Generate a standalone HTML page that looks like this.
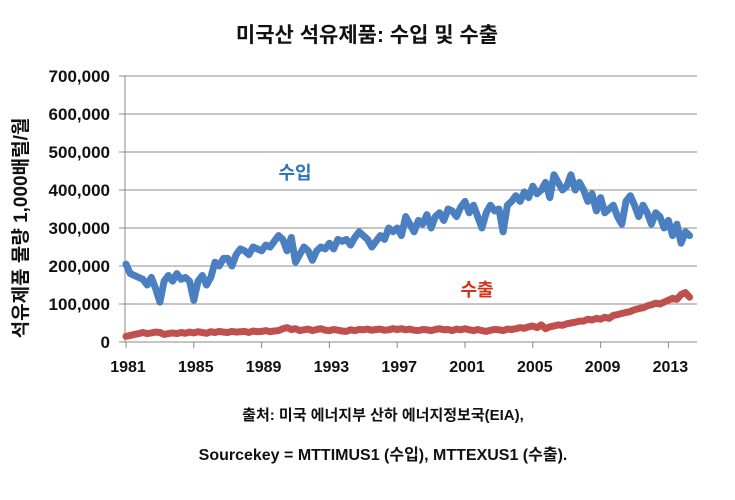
<!DOCTYPE html>
<html><head><meta charset="utf-8"><style>
body{margin:0;background:#fff;}
svg text{font-family:"Liberation Sans","Noto Sans CJK KR",sans-serif;font-weight:bold;}
</style></head><body>
<svg id="chart" width="735" height="495" viewBox="0 0 735 495" xmlns="http://www.w3.org/2000/svg">
<text x="367" y="42" text-anchor="middle" font-size="21" fill="#111">미국산 석유제품: 수입 및 수출</text>
<text transform="translate(27,228) rotate(-90)" text-anchor="middle" font-size="19" fill="#111">석유제품 물량 1,000배럴/월</text>
<g id="grid"></g><g id="axes"></g><g id="series"></g>
<text x="295" y="179" text-anchor="middle" font-size="18" fill="#2e75b6">수입</text>
<text x="477" y="296" text-anchor="middle" font-size="18" fill="#d9301b">수출</text>
<text x="383" y="420" text-anchor="middle" font-size="15" fill="#111">출처: 미국 에너지부 산하 에너지정보국(EIA),</text>
<text x="383" y="460" text-anchor="middle" font-size="16" fill="#111">Sourcekey = MTTIMUS1 (수입), MTTEXUS1 (수출).</text>
</svg>
<script>
const yTicks=[0,100000,200000,300000,400000,500000,600000,700000];
const xTickYears=[1981,1985,1989,1993,1997,2001,2005,2009,2013];
const imports=[205,180,175,170,165,150,170,140,105,160,175,160,180,165,170,160,110,160,175,150,170,210,200,220,220,200,230,245,240,230,250,245,240,255,250,265,280,270,240,275,210,230,250,240,215,240,250,245,260,245,270,265,270,255,275,290,280,270,250,265,280,270,300,290,300,280,330,310,290,320,310,335,300,330,340,320,350,345,330,355,370,340,360,330,300,340,360,345,350,290,360,370,385,370,395,380,410,390,400,420,380,440,420,400,410,440,400,420,400,370,390,345,380,340,350,360,330,310,370,385,360,330,360,340,310,340,330,300,320,280,310,260,290,280];
const exportsQ=[15,17,20,22,25,22,24,26,25,20,22,24,22,25,23,26,24,27,25,23,27,25,28,26,25,28,26,27,28,25,29,27,28,30,27,29,30,35,38,33,35,30,32,34,30,33,35,31,30,33,31,29,28,32,30,33,32,34,31,33,34,31,32,35,33,35,32,34,31,30,33,32,30,33,35,32,33,30,34,32,35,32,30,33,30,28,31,33,32,30,34,33,35,38,36,40,42,38,45,35,40,42,45,44,48,50,52,55,55,60,58,62,60,65,62,70,72,75,78,80,85,88,90,95,98,102,100,105,110,115,112,125,130,118];
const NS="http://www.w3.org/2000/svg";
const x0=126,pxYear=16.95,y0=342,pxUnit=38/100000;
function xs(yr){return x0+(yr-1981)*pxYear;}
function ys(v){return y0-v*pxUnit;}
function mk(tag,attrs,parent){const e=document.createElementNS(NS,tag);for(const k in attrs)e.setAttribute(k,attrs[k]);parent.appendChild(e);return e;}
const grid=document.getElementById('grid'),axes=document.getElementById('axes'),ser=document.getElementById('series');
yTicks.forEach(v=>{
  if(v>0){const g=mk('line',{x1:125,x2:697,y1:ys(v),y2:ys(v),stroke:'#8c8c8c','stroke-width':1},grid);
  
  }
  const t=mk('line',{x1:119,x2:125,y1:ys(v),y2:ys(v),stroke:'#888'},axes);
  
  
  const l=mk('text',{x:110,y:ys(v)+6,'text-anchor':'end','font-size':17,fill:'#111'},axes);
  l.textContent=v.toLocaleString('en-US');
  
  
});
const ya=mk('line',{x1:125,x2:125,y1:ys(700000),y2:y0,stroke:'#888'},axes);


const xa=mk('line',{x1:125,x2:697,y1:y0,y2:y0,stroke:'#888'},axes);


xTickYears.forEach(yr=>{
  const t=mk('line',{x1:xs(yr),x2:xs(yr),y1:y0,y2:y0+6,stroke:'#888'},axes);
  
  
  const l=mk('text',{x:xs(yr)+2,y:372,'text-anchor':'middle','font-size':16,fill:'#111'},axes);
  l.textContent=yr;
  
  
});
function line(arr,color,name){
  const pts=arr.map((v,i)=>xs(1981+i*0.25).toFixed(1)+','+ys(v*1000).toFixed(1)).join(' ');
  const p=mk('polyline',{points:pts,fill:'none',stroke:color,'stroke-width':7,'stroke-linejoin':'round','stroke-linecap':'round'},ser);
  
  
}
line(exportsQ,'#c0504d','exports-line');
line(imports,'#4a7fc1','imports-line');
</script>
</body></html>
